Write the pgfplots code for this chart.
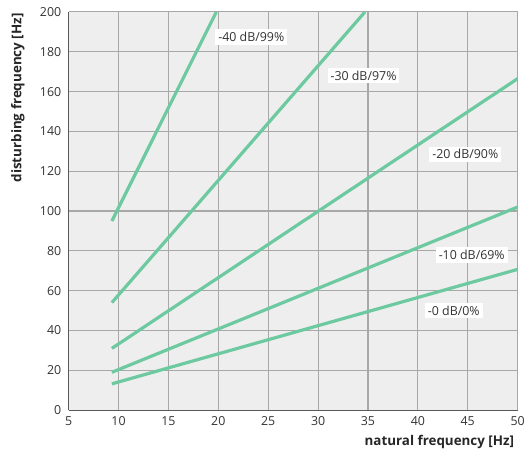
\documentclass[border=0pt]{standalone}
\usepackage{fontspec}
\setmainfont{Open Sans}
\usepackage{pgfplots}
\pgfplotsset{compat=1.18}
\definecolor{lineG}{RGB}{108,201,160}
\definecolor{bgG}{RGB}{238,238,238}
\definecolor{gridG}{RGB}{168,168,168}
\definecolor{txt}{RGB}{51,51,51}
\begin{document}
\begin{tikzpicture}
\begin{axis}[
  scale only axis,
  width=451bp, height=400bp,
  xmin=5, xmax=50, ymin=0, ymax=200,
  xtick={5,10,...,50}, ytick={0,20,...,200},
  major tick length=0pt,
  axis background/.style={fill=bgG},
  grid=major,
  major grid style={gridG, line width=1.1bp},
  axis x line*=bottom, axis y line*=left,
  axis line style={draw=black!65, line width=1.1bp, -},
  tick label style={font=\fontsize{12.5}{14}\selectfont, text=txt},
  /pgf/number format/assume math mode=true,
  xticklabel style={yshift=-3bp},
  yticklabel style={xshift=-4bp},
  xlabel={\textbf{natural frequency [Hz]}},
  ylabel={\textbf{disturbing frequency [Hz]}},
  label style={font=\fontsize{13.5}{15}\selectfont, text=black!85},
  xlabel style={at={(axis description cs:1,0)}, anchor=north east, yshift=-22bp},
  ylabel style={at={(axis description cs:-0.113,1.005)}, anchor=east, rotate=0},
  curve/.style={lineG, line width=3.2bp, mark=none},
  clip=true,
]
\addplot[curve] coordinates {(9.33,13.2) (50,70.7)};
\addplot[curve] coordinates {(9.33,19.0) (50,102.0)};
\addplot[curve] coordinates {(9.33,31.0) (50,166.5)};
\addplot[curve] coordinates {(9.33,54.0) (34.7,200)};
\addplot[curve] coordinates {(9.33,95.0) (19.8,200)};
\begin{scope}[every node/.style={fill=white, text=txt, font=\fontsize{12.5}{14}\selectfont, inner sep=3bp}]
\node at (axis cs:23.3,187.5) {-40 dB/99\%};
\node at (axis cs:34.55,168) {-30 dB/97\%};
\node at (axis cs:44.75,128.5) {-20 dB/90\%};
\node at (axis cs:45.4,78) {-10 dB/69\%};
\node at (axis cs:43.6,50) {-0 dB/0\%};
\end{scope}
\end{axis}
\path[use as bounding box] (-69bp,-52bp) rectangle (459bp,412bp);
\end{tikzpicture}
\end{document}
